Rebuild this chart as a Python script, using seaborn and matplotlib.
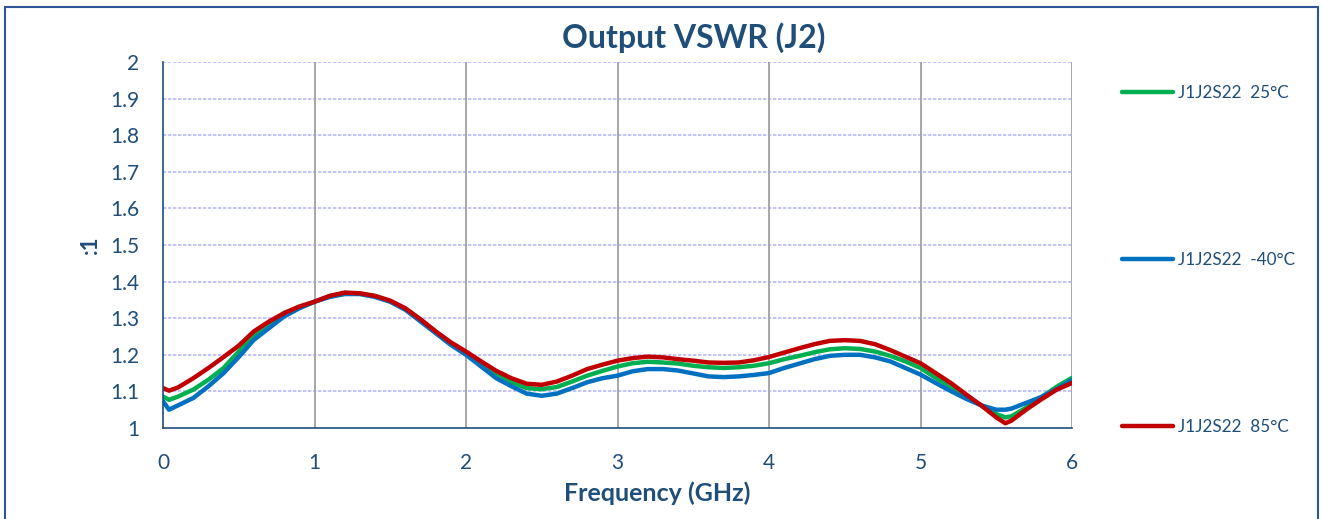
import numpy as np
import pandas as pd
import matplotlib
matplotlib.use("Agg")
import matplotlib.pyplot as plt
import seaborn as sns
from matplotlib.patches import Rectangle

freq = [0.0, 0.04, 0.1, 0.2, 0.3, 0.4, 0.5, 0.6, 0.7, 0.8, 0.9,
        1.0, 1.1, 1.2, 1.3, 1.4, 1.5, 1.6, 1.7, 1.8, 1.9,
        2.0, 2.1, 2.2, 2.3, 2.4, 2.5, 2.6, 2.7, 2.8, 2.9,
        3.0, 3.1, 3.2, 3.3, 3.4, 3.5, 3.6, 3.7, 3.8, 3.9,
        4.0, 4.1, 4.2, 4.3, 4.4, 4.5, 4.6, 4.7, 4.8, 4.9,
        5.0, 5.1, 5.2, 5.3, 5.4, 5.5, 5.56, 5.6, 5.7, 5.8, 5.9, 6.0]

vswr_25 = [1.086, 1.077, 1.086, 1.105, 1.132, 1.164, 1.209, 1.250, 1.286, 1.314, 1.330,
           1.345, 1.360, 1.369, 1.367, 1.360, 1.346, 1.325, 1.295, 1.262, 1.231,
           1.203, 1.175, 1.145, 1.125, 1.109, 1.106, 1.112, 1.127, 1.143, 1.156,
           1.168, 1.177, 1.181, 1.179, 1.176, 1.170, 1.166, 1.164, 1.166, 1.170,
           1.177, 1.188, 1.197, 1.207, 1.215, 1.218, 1.216, 1.209, 1.197, 1.182,
           1.164, 1.137, 1.113, 1.087, 1.062, 1.038, 1.029, 1.032, 1.056, 1.085, 1.113, 1.137]

vswr_m40 = [1.073, 1.050, 1.062, 1.082, 1.114, 1.150, 1.194, 1.241, 1.273, 1.305, 1.327,
            1.345, 1.358, 1.366, 1.366, 1.358, 1.345, 1.323, 1.291, 1.259, 1.227,
            1.200, 1.168, 1.136, 1.114, 1.094, 1.088, 1.094, 1.109, 1.125, 1.136,
            1.143, 1.155, 1.161, 1.161, 1.157, 1.149, 1.141, 1.139, 1.141, 1.145,
            1.150, 1.164, 1.176, 1.188, 1.197, 1.200, 1.200, 1.193, 1.182, 1.164,
            1.146, 1.123, 1.101, 1.080, 1.062, 1.050, 1.050, 1.053, 1.069, 1.085, 1.107, 1.131]

vswr_85 = [1.109, 1.102, 1.111, 1.136, 1.164, 1.194, 1.225, 1.264, 1.291, 1.314, 1.332,
           1.345, 1.361, 1.370, 1.368, 1.361, 1.348, 1.327, 1.297, 1.264, 1.234,
           1.209, 1.182, 1.156, 1.136, 1.121, 1.118, 1.127, 1.143, 1.161, 1.173,
           1.184, 1.191, 1.195, 1.193, 1.188, 1.184, 1.179, 1.178, 1.179, 1.185,
           1.194, 1.206, 1.218, 1.229, 1.238, 1.240, 1.238, 1.229, 1.213, 1.195,
           1.177, 1.150, 1.123, 1.092, 1.062, 1.029, 1.013, 1.020, 1.051, 1.079, 1.105, 1.123]

series_labels = ["J1J2S22  25°C", "J1J2S22  -40°C", "J1J2S22  85°C"]
series_colors = ["#00B050", "#0070C0", "#C00000"]

df = pd.concat([
    pd.DataFrame({"freq": freq, "vswr": v, "series": lab})
    for v, lab in zip([vswr_25, vswr_m40, vswr_85], series_labels)
], ignore_index=True)

sns.set_theme(style="white")
plt.rcParams['font.family'] = ['Lato', 'DejaVu Sans']
txt = "#1F4E79"

fig = plt.figure(figsize=(13.22, 5.19), dpi=100)
ax = fig.add_axes([163/1322, 1-428/519, (1072-163)/1322, (428-62)/519])

sns.lineplot(data=df, x="freq", y="vswr", hue="series", hue_order=series_labels,
             palette=dict(zip(series_labels, series_colors)), linewidth=3.2,
             ax=ax, legend=True, sort=False)

ax.set_xlim(0, 6)
ax.set_ylim(1, 2)
ax.set_xticks(np.arange(0, 7, 1))
ax.set_yticks(np.round(np.arange(1, 2.01, 0.1), 1))
ax.set_xticklabels([str(i) for i in range(7)])
ax.set_yticklabels(["1"] + [f"{v:.1f}" for v in np.arange(1.1, 1.95, 0.1)] + ["2"])
ax.tick_params(axis="y", length=0, labelsize=15, labelcolor=txt, pad=17)
ax.tick_params(axis="x", length=0, labelsize=15, labelcolor=txt, pad=18)

ax.grid(False)
for v in np.arange(1.1, 2.01, 0.1):
    ax.axhline(v, color="#9999FF", lw=1.2, ls=(0, (2, 1)), alpha=0.7, zorder=0)
for x in range(1, 7):
    ax.axvline(x, color="#A0A0A0", lw=1.3, zorder=0)

for s in ["top", "right"]:
    ax.spines[s].set_visible(False)
for s in ["left", "bottom"]:
    ax.spines[s].set_color(txt)
    ax.spines[s].set_linewidth(1.2)

ax.set_xlabel("Frequency (GHz)", fontsize=18, fontweight="bold", color=txt)
ax.xaxis.set_label_coords((657-163)/909, (428-493)/366)
ax.xaxis.label.set_va("center")
ax.set_ylabel(":1", fontsize=16, fontweight="bold", color=txt)
ax.yaxis.set_label_coords((90-163)/909, 0.5)
ax.yaxis.label.set_va("center")
fig.text(694/1322, 1-38/519, "Output VSWR (J2)", fontsize=23, fontweight="bold",
         color=txt, ha="center", va="center")

leg = ax.legend(loc="upper left", bbox_to_anchor=(1115/1322, 1-78/519),
                bbox_transform=fig.transFigure, frameon=False, fontsize=12.3,
                handlelength=3.0, handletextpad=0.3, labelspacing=8.83, borderaxespad=0)
for t in leg.get_texts():
    t.set_color(txt)
for h in leg.get_lines():
    h.set_linewidth(3.2)

fig.patches.append(Rectangle((5/1322, -0.01), 1313/1322, 1-7/519+0.01, transform=fig.transFigure,
                             fill=False, edgecolor="#2F5597", lw=1.5))

fig.savefig("out.png", dpi=100)
